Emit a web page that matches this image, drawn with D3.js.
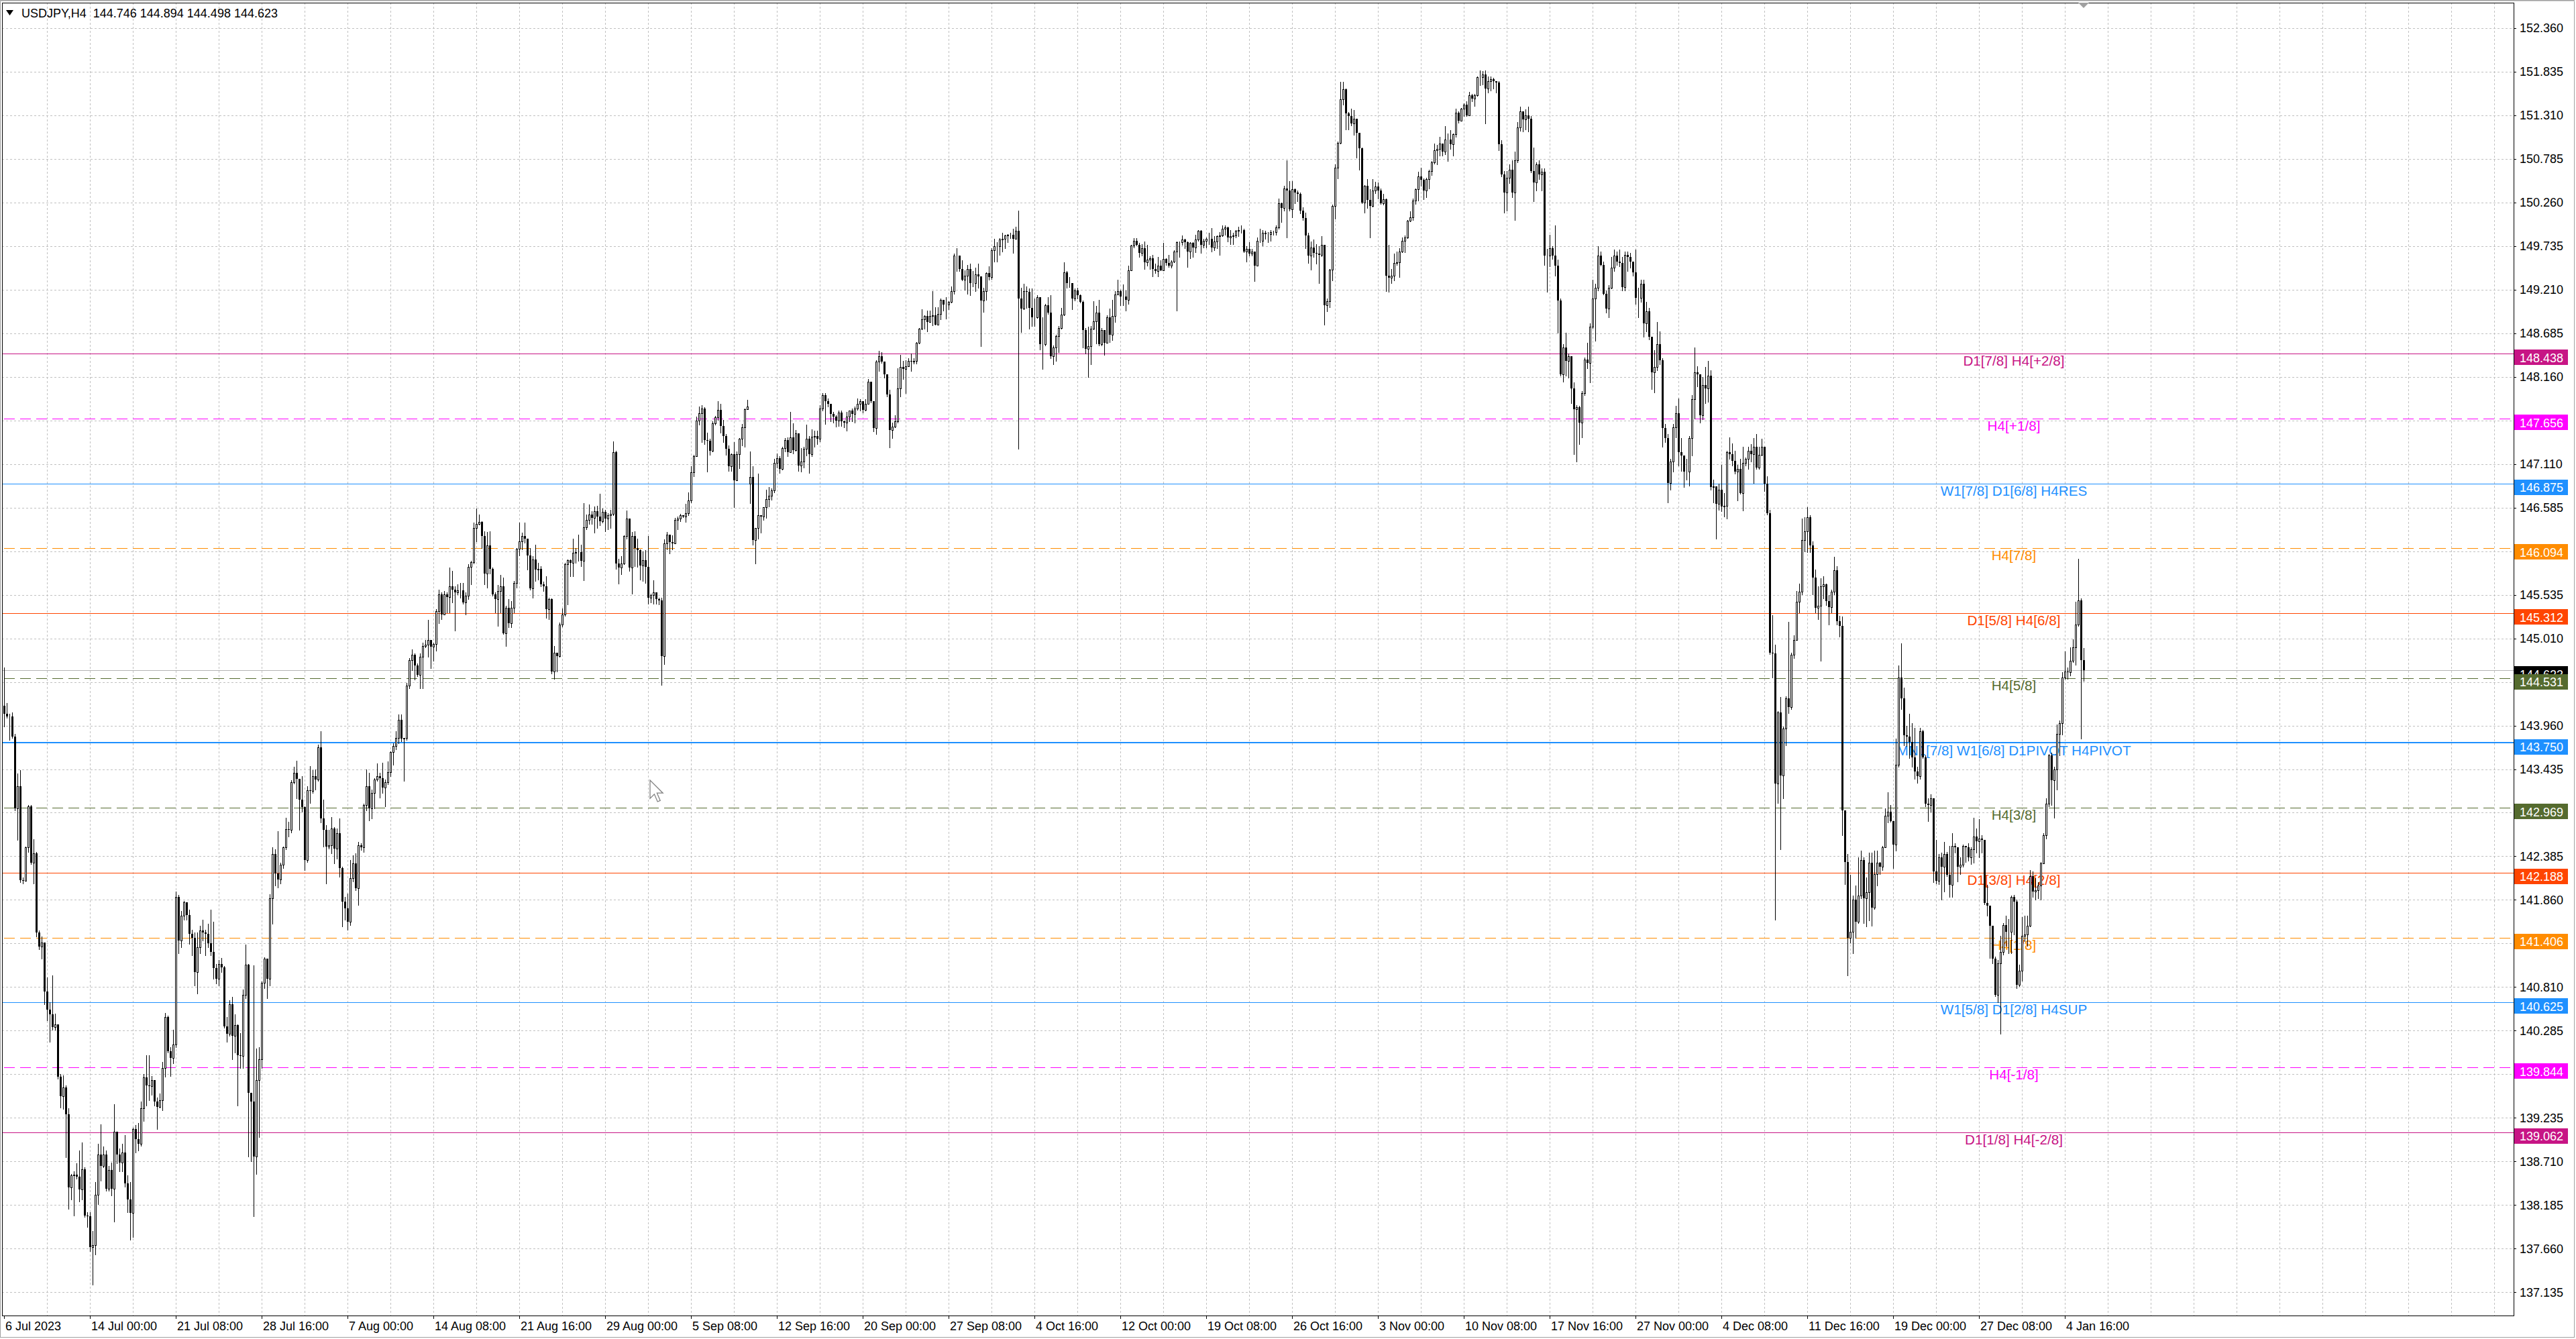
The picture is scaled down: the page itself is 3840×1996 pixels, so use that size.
<!DOCTYPE html>
<html>
<head>
<meta charset="utf-8">
<script src="https://d3js.org/d3.v7.min.js"></script>
<style>
  html, body { margin: 0; padding: 0; background: #fff; overflow: hidden; }
  svg { display: block; }
</style>
</head>
<body>
<script>
// USDJPY H4, one value per bar (bar 0 = 6 Jul 2023 16:00)
var opens = [
  144.20,144.10,144.07,144.07,143.83,142.96,143.23,142.10,142.09,142.49,
  142.99,142.31,142.42,141.47,141.30,141.35,140.76,140.54,140.48,140.33,
  140.36,139.73,139.50,139.60,139.28,138.40,138.54,138.55,138.53,138.37,
  138.62,138.06,138.05,137.68,137.70,138.31,138.79,138.66,138.79,138.38,
  138.61,138.38,139.07,138.79,138.70,138.82,138.45,138.25,138.09,139.10,
  138.98,138.92,139.35,139.72,139.63,139.62,139.69,139.43,139.37,139.45,
  139.84,140.45,140.04,139.96,140.12,141.90,141.37,141.67,141.83,141.68,
  141.45,141.40,140.99,141.29,141.49,141.47,141.45,141.34,141.23,141.04,
  140.91,141.09,141.05,140.34,140.25,140.60,140.22,140.35,139.99,139.98,
  140.72,141.08,139.54,139.43,138.77,139.69,139.94,140.86,141.15,140.91,
  141.88,142.41,142.18,142.11,142.28,142.49,142.71,142.70,143.28,143.39,
  143.32,143.07,142.98,142.34,143.18,143.17,143.35,143.31,143.70,142.84,
  142.70,142.50,142.52,142.72,142.48,142.66,142.24,141.84,141.76,141.60,
  142.12,142.30,142.00,142.52,142.49,143.00,143.23,142.96,143.15,143.31,
  143.35,143.33,143.21,143.28,143.40,143.64,143.71,143.81,144.03,143.80,
  143.81,144.44,144.75,144.81,144.68,144.57,144.79,144.92,144.93,144.99,
  144.91,144.94,145.34,145.54,145.30,145.54,145.51,145.64,145.60,145.56,
  145.59,145.59,145.44,145.52,145.87,145.93,146.34,146.39,146.41,146.24,
  145.79,146.13,145.85,145.54,145.48,145.58,145.64,145.07,145.38,145.19,
  145.38,145.68,146.09,146.18,146.24,146.21,146.01,145.61,145.96,145.84,
  145.85,145.66,145.64,145.36,145.48,144.61,144.84,144.80,145.18,145.30,
  145.90,145.95,145.92,146.04,146.05,146.05,145.94,146.35,146.44,146.50,
  146.46,146.54,146.48,146.42,146.53,146.45,146.49,146.51,147.25,145.91,
  145.86,145.91,146.24,146.45,145.86,146.24,146.10,146.07,145.89,145.95,
  145.87,145.50,145.53,145.56,145.48,145.47,144.80,146.15,146.26,146.17,
  146.15,146.44,146.45,146.49,146.48,146.52,146.67,147.01,147.20,147.63,
  147.72,147.78,147.40,147.39,147.27,147.60,147.67,147.76,147.57,147.45,
  147.29,147.08,147.23,146.91,147.23,147.41,147.55,147.77,146.87,146.95,
  146.19,146.34,146.49,146.48,146.59,146.69,146.73,146.79,147.12,147.18,
  147.05,147.30,147.40,147.25,147.43,147.28,147.48,147.09,147.14,147.29,
  147.41,147.23,147.44,147.45,147.41,147.78,147.94,147.87,147.83,147.71,
  147.68,147.63,147.73,147.62,147.61,147.68,147.75,147.71,147.78,147.83,
  147.87,147.76,147.83,148.10,147.87,147.54,148.34,148.41,148.34,148.19,
  147.95,147.52,147.56,147.62,148.02,148.28,148.25,148.29,148.35,148.34,
  148.35,148.57,148.74,148.85,148.89,148.82,148.89,148.90,148.79,148.92,
  149.09,149.03,149.03,149.06,149.19,149.62,149.62,149.46,149.33,149.38,
  149.46,149.29,149.29,149.39,149.37,149.08,149.19,149.41,149.36,149.68,
  149.73,149.73,149.81,149.82,149.86,149.87,149.87,149.82,149.92,149.10,
  148.98,149.19,149.18,148.99,148.88,148.88,149.12,148.55,148.55,149.02,
  148.93,148.41,148.51,148.65,148.75,148.91,149.42,149.29,149.29,149.10,
  149.20,149.14,149.06,148.72,148.50,148.53,148.74,148.83,148.93,148.55,
  148.72,148.57,148.88,148.67,148.89,149.15,149.19,149.13,149.13,149.09,
  149.44,149.74,149.80,149.75,149.65,149.71,149.54,149.57,149.59,149.46,
  149.43,149.50,149.44,149.58,149.53,149.50,149.55,149.67,149.78,149.78,
  149.81,149.78,149.67,149.77,149.72,149.81,149.92,149.75,149.80,149.82,
  149.82,149.72,149.79,149.85,149.86,149.94,149.96,149.84,149.85,149.86,
  149.92,149.93,149.93,149.67,149.70,149.64,149.67,149.50,149.80,149.80,
  149.89,149.88,149.88,149.90,149.90,149.96,150.25,150.19,150.43,150.40,
  150.18,150.42,150.38,150.36,150.16,150.07,149.86,149.62,149.72,149.65,
  149.64,149.63,149.75,149.02,149.07,149.45,150.22,150.68,150.98,151.50,
  151.62,151.33,151.30,151.21,151.27,151.10,150.91,150.26,150.46,150.29,
  150.22,150.40,150.45,150.40,150.25,150.30,149.38,149.35,149.38,149.53,
  149.54,149.67,149.80,149.84,150.04,150.08,150.28,150.42,150.57,150.53,
  150.40,150.54,150.64,150.74,150.89,150.90,150.97,150.87,151.02,151.02,
  150.96,151.08,151.34,151.24,151.39,151.44,151.31,151.55,151.51,151.55,
  151.77,151.77,151.80,151.63,151.72,151.74,151.72,151.70,150.96,150.60,
  150.38,150.56,150.65,150.38,150.77,151.16,151.36,151.26,151.31,151.27,
  150.64,150.50,150.72,150.60,150.63,149.62,149.62,149.71,149.62,149.50,
  149.08,148.19,148.51,148.35,148.41,148.02,147.77,147.79,147.61,147.96,
  148.37,148.33,148.76,149.10,149.23,149.62,149.51,149.16,148.98,149.23,
  149.47,149.62,149.55,149.53,149.24,149.63,149.60,149.55,149.42,149.11,
  149.11,149.28,148.80,148.95,148.64,148.21,148.28,148.55,148.36,147.54,
  147.42,146.88,147.14,147.55,147.72,147.25,147.21,147.02,147.02,147.42,
  147.89,148.21,148.19,147.70,148.06,148.02,148.17,146.83,146.84,146.63,
  146.80,146.60,146.61,147.25,147.23,147.15,147.02,147.05,146.76,147.12,
  147.17,147.27,147.23,147.32,147.07,147.22,147.32,146.87,146.52,144.84,
  144.83,143.26,144.12,143.36,143.92,144.29,144.18,144.81,144.99,145.45,
  145.57,146.19,146.30,146.47,146.13,145.74,145.38,145.40,145.64,145.66,
  145.46,145.39,145.57,145.83,145.22,145.16,142.94,142.32,141.40,141.48,
  141.86,141.60,141.91,142.34,141.88,141.95,142.31,141.77,142.17,142.31,
  142.26,142.49,142.87,142.92,142.81,142.53,143.49,144.54,144.29,143.84,
  143.83,143.76,143.58,143.41,143.35,143.89,143.58,143.02,143.00,143.08,
  142.20,142.09,142.37,142.26,142.41,142.16,142.04,142.51,142.49,142.26,
  142.28,142.51,142.49,142.37,142.47,142.62,142.57,142.60,142.58,141.82,
  141.79,141.55,141.15,140.72,141.10,141.23,141.56,141.48,141.48,141.90,
  141.84,140.84,141.01,141.43,141.44,141.55,142.15,141.96,141.98,142.03,
  142.30,142.64,143.02,143.60,143.30,143.43,143.86,143.99,144.54,144.61,
  144.60,144.74,144.90,145.18,145.47,144.746
]

var highs = [
  144.66,144.23,144.10,144.12,143.86,143.38,143.42,142.13,142.50,143.00,
  143.00,142.59,142.44,141.49,141.42,141.35,140.93,140.63,140.95,140.49,
  140.36,139.76,139.75,139.63,139.35,138.56,138.59,138.69,138.84,138.94,
  138.64,138.10,138.10,137.87,138.46,138.92,139.16,138.89,138.84,138.66,
  138.70,139.40,139.07,138.87,138.92,139.03,138.54,138.46,139.12,139.15,
  139.17,139.43,139.76,139.99,139.99,139.74,139.69,139.48,139.53,139.91,
  140.50,140.47,140.09,140.30,141.96,141.92,141.73,141.85,141.78,141.74,
  141.50,141.47,141.47,141.55,141.62,141.50,141.57,141.74,141.60,141.09,
  141.14,141.16,141.06,140.45,140.65,140.69,140.48,140.36,140.26,140.78,
  141.32,141.09,139.50,141.07,140.07,140.09,140.88,141.17,141.14,141.93,
  142.49,142.47,142.69,142.31,142.50,142.85,142.80,143.30,143.46,143.54,
  143.29,143.35,142.99,143.23,143.47,143.42,143.43,143.73,143.89,143.07,
  142.76,142.70,142.86,142.74,142.72,142.84,142.26,141.90,141.94,142.34,
  142.40,142.42,142.56,142.54,143.02,143.43,143.39,143.19,143.33,143.50,
  143.39,143.51,143.31,143.53,143.65,143.75,143.89,144.09,144.09,143.81,
  144.47,144.77,144.88,144.83,144.71,144.83,144.96,144.99,145.23,144.99,
  144.96,145.36,145.60,145.56,145.58,145.56,145.86,145.82,145.64,145.66,
  145.68,145.68,145.56,145.90,145.94,146.40,146.57,146.50,146.42,146.30,
  146.29,146.30,145.86,145.56,145.65,145.77,145.74,145.40,145.48,145.46,
  145.70,146.10,146.40,146.28,146.40,146.21,146.10,146.00,146.14,145.92,
  145.88,145.69,145.76,145.50,145.49,144.92,144.81,145.20,145.37,145.92,
  145.96,145.96,146.21,146.10,146.26,146.14,146.64,146.50,146.62,146.54,
  146.60,146.61,146.75,146.57,146.56,146.52,146.56,147.38,147.27,145.97,
  146.00,146.25,146.55,146.45,146.29,146.30,146.21,146.08,146.06,146.07,
  146.24,145.55,145.71,145.56,145.50,145.50,146.20,146.29,146.24,146.25,
  146.46,146.48,146.51,146.49,146.63,146.77,147.08,147.22,147.68,147.80,
  147.82,147.79,147.49,147.41,147.62,147.69,147.87,147.83,147.64,147.47,
  147.33,147.24,147.37,147.26,147.42,147.59,147.78,147.88,147.26,147.08,
  146.34,146.99,146.49,146.59,146.80,146.83,146.82,147.17,147.24,147.20,
  147.32,147.42,147.43,147.74,147.60,147.52,147.48,147.30,147.32,147.58,
  147.45,147.53,147.51,147.51,147.82,147.96,147.96,147.90,147.81,147.74,
  147.70,147.75,147.75,147.63,147.74,147.75,147.78,147.80,147.90,147.89,
  147.87,147.89,148.13,148.10,147.87,148.36,148.47,148.46,148.34,148.19,
  148.00,147.61,147.70,148.26,148.42,148.35,148.36,148.38,148.44,148.38,
  148.58,148.75,148.97,148.90,148.96,148.96,149.19,149.00,149.00,149.10,
  149.09,149.12,149.07,149.25,149.64,149.71,149.56,149.56,149.44,149.51,
  149.52,149.43,149.47,149.52,149.37,149.23,149.42,149.49,149.71,149.82,
  149.78,149.83,149.89,149.87,149.88,149.89,149.94,149.97,150.16,149.23,
  149.28,149.25,149.22,149.22,149.10,149.14,149.03,148.88,149.04,149.12,
  149.14,148.54,148.67,148.77,148.99,149.54,149.43,149.36,149.23,149.22,
  149.23,149.15,149.08,148.75,148.76,148.77,149.07,149.01,149.09,148.75,
  148.71,148.90,148.98,149.09,149.19,149.33,149.21,149.27,149.20,149.50,
  149.75,149.83,149.83,149.77,149.76,149.79,149.75,149.61,149.63,149.52,
  149.60,149.56,149.77,149.59,149.63,149.56,149.68,149.79,149.79,149.86,
  149.82,149.79,149.78,149.78,149.87,149.93,149.93,149.82,149.84,149.89,
  149.95,149.85,149.86,149.90,149.98,149.98,149.97,149.93,149.89,149.93,
  149.97,149.98,149.94,149.73,149.78,149.70,149.66,149.84,149.94,149.93,
  149.92,149.90,149.93,149.92,149.98,150.31,150.26,150.46,150.77,150.52,
  150.52,150.43,150.40,150.38,150.20,150.14,149.89,149.79,149.81,149.76,
  149.73,149.85,149.75,149.10,149.46,150.23,150.72,150.99,151.71,151.71,
  151.63,151.35,151.39,151.37,151.27,151.10,150.92,150.47,150.54,150.42,
  150.54,150.51,150.50,150.43,150.36,150.31,149.75,149.46,149.64,149.67,
  149.71,149.84,149.86,150.05,150.15,150.31,150.43,150.63,150.68,150.55,
  150.56,150.65,150.76,150.97,150.95,151.05,150.95,151.18,151.09,151.13,
  151.09,151.39,151.36,151.40,151.45,151.48,151.59,151.57,151.57,151.78,
  151.85,151.84,151.85,151.78,151.78,151.76,151.72,151.72,151.01,150.64,
  150.64,150.72,150.77,150.87,151.23,151.41,151.36,151.38,151.41,151.30,
  150.92,150.74,150.77,150.67,150.67,149.70,149.87,149.73,149.98,149.57,
  149.10,148.55,148.69,148.44,148.41,148.09,147.82,147.81,147.99,148.39,
  148.57,148.80,149.33,149.28,149.73,149.67,149.55,149.20,149.26,149.60,
  149.69,149.67,149.69,149.60,149.67,149.67,149.65,149.55,149.69,149.23,
  149.33,149.33,149.06,148.99,148.62,148.48,148.82,148.71,148.38,147.59,
  147.47,147.17,147.59,147.81,147.90,147.42,147.19,147.17,147.45,147.94,
  148.51,148.29,148.19,148.16,148.28,148.35,148.24,146.92,146.76,146.87,
  147.10,146.76,147.27,147.43,147.36,147.27,147.10,147.17,147.32,147.19,
  147.32,147.35,147.42,147.47,147.32,147.41,147.27,146.96,146.56,145.29,
  144.93,144.13,144.30,143.95,144.31,145.21,144.84,145.05,145.58,145.67,
  146.45,146.47,146.59,146.49,146.18,145.84,145.64,145.73,145.76,145.67,
  145.53,145.60,145.99,145.88,145.28,145.27,142.91,142.41,142.16,141.91,
  142.03,142.37,142.45,142.37,142.13,142.43,142.43,142.45,142.45,142.32,
  142.51,142.96,143.16,143.00,142.81,143.80,144.68,144.95,144.42,143.96,
  144.10,143.99,143.93,143.46,143.93,143.91,143.60,143.08,143.13,143.08,
  142.58,142.41,142.43,142.56,142.44,142.51,142.66,142.54,142.49,142.37,
  142.53,142.51,142.54,142.49,142.85,142.72,142.83,142.64,142.58,142.04,
  141.79,141.55,141.18,141.14,141.43,141.58,141.67,141.63,141.91,141.92,
  141.86,141.08,141.65,141.67,141.67,142.22,142.20,142.12,142.07,142.32,
  142.66,143.08,143.62,143.63,143.46,143.97,144.02,144.60,144.85,144.66,
  144.90,145.00,145.45,145.97,145.49,144.894
]

var lows = [
  143.95,144.05,143.79,143.81,142.94,142.58,142.07,142.06,142.11,142.44,
  142.29,142.06,141.42,141.27,141.15,140.60,140.41,140.15,140.30,140.30,
  139.71,139.36,139.34,138.76,138.14,138.25,138.06,138.50,138.23,138.25,
  138.04,137.92,137.63,137.23,137.59,138.20,138.48,138.64,138.36,138.36,
  138.30,137.99,138.69,138.59,138.59,138.41,138.10,137.77,137.80,138.82,
  138.84,138.90,139.20,139.38,139.45,139.51,139.38,139.10,139.36,139.33,
  139.73,140.02,139.74,139.89,140.09,141.22,141.29,141.62,141.62,141.33,
  141.19,140.83,140.73,141.22,141.37,141.19,141.29,141.19,140.91,140.85,
  140.83,140.99,140.32,140.15,140.22,139.94,140.02,139.38,139.84,139.84,
  140.68,138.77,138.71,138.05,138.56,139.00,139.84,140.80,140.68,140.83,
  141.57,142.03,142.01,142.06,142.24,142.47,142.62,142.67,143.26,143.08,
  142.70,142.92,142.22,142.32,143.03,143.15,143.19,143.29,142.79,142.50,
  142.06,142.48,142.42,142.30,142.36,142.14,141.54,141.62,141.50,141.56,
  142.08,141.98,141.80,142.46,142.44,142.94,142.82,142.84,142.96,143.29,
  143.09,143.15,142.99,143.25,143.35,143.49,143.67,143.75,143.77,143.29,
  143.79,144.41,144.63,144.51,144.55,144.41,144.41,144.90,144.79,144.65,
  144.74,144.86,145.19,145.24,145.32,145.32,145.32,145.44,145.10,145.54,
  145.50,145.43,145.30,145.48,145.66,145.91,146.18,146.38,146.10,145.66,
  145.62,145.79,145.52,145.32,145.16,145.32,145.06,144.92,145.14,145.14,
  145.32,145.62,146.01,146.08,146.16,145.84,145.60,145.50,145.70,145.72,
  145.64,145.58,145.26,145.24,144.59,144.52,144.61,144.79,145.15,145.28,
  145.42,145.76,145.76,145.92,145.94,145.88,145.71,146.32,146.39,146.39,
  146.28,146.34,146.37,146.40,146.30,146.32,146.34,146.49,145.85,145.67,
  145.78,145.90,146.21,145.82,145.55,145.88,145.87,145.72,145.70,145.68,
  145.43,145.44,145.43,145.43,145.42,144.45,144.70,146.08,146.03,146.08,
  146.15,146.32,146.42,146.47,146.41,146.49,146.65,146.96,147.20,147.58,
  147.37,147.35,147.02,147.22,147.26,147.58,147.64,147.49,147.37,147.22,
  147.03,147.03,146.59,146.91,147.06,147.33,147.32,147.77,146.64,146.14,
  145.91,146.21,146.28,146.44,146.46,146.60,146.68,146.77,147.07,147.00,
  147.04,147.26,147.20,147.25,147.24,147.27,147.03,147.02,147.07,147.21,
  147.00,147.20,147.32,147.35,147.38,147.75,147.59,147.80,147.62,147.61,
  147.56,147.57,147.57,147.55,147.51,147.62,147.62,147.61,147.76,147.75,
  147.73,147.75,147.83,147.85,147.50,147.47,148.23,148.33,148.15,147.92,
  147.31,147.42,147.55,147.61,147.92,148.13,147.96,148.29,148.23,148.32,
  148.32,148.56,148.73,148.74,148.71,148.82,148.78,148.79,148.79,148.85,
  148.96,148.86,148.97,149.05,149.16,149.43,149.43,149.32,149.21,149.16,
  149.14,149.25,149.19,149.23,148.53,148.94,149.09,149.33,149.34,149.55,
  149.55,149.63,149.67,149.71,149.78,149.83,149.65,149.82,147.29,148.70,
  148.97,148.99,148.74,148.77,148.77,148.87,148.49,148.25,148.54,148.92,
  148.38,148.31,148.35,148.46,148.74,148.90,149.23,149.24,148.97,149.08,
  149.10,149.05,148.51,148.44,148.16,148.31,148.73,148.56,148.54,148.54,
  148.42,148.57,148.58,148.60,148.82,149.15,149.02,149.02,148.96,149.04,
  149.44,149.72,149.74,149.60,149.62,149.46,149.50,149.46,149.37,149.41,
  149.37,149.44,149.44,149.51,149.48,149.47,149.54,148.96,149.60,149.75,
  149.71,149.48,149.59,149.60,149.66,149.80,149.65,149.72,149.72,149.76,
  149.67,149.68,149.71,149.63,149.85,149.87,149.79,149.76,149.76,149.84,
  149.85,149.89,149.66,149.55,149.62,149.62,149.31,149.51,149.78,149.74,
  149.82,149.78,149.80,149.87,149.87,149.94,150.02,150.16,149.84,150.16,
  150.08,150.25,150.27,150.13,150.05,149.71,149.53,149.45,149.60,149.52,
  149.29,149.61,148.79,148.95,149.00,149.32,150.06,150.55,150.97,151.44,
  151.14,151.14,151.19,151.07,150.80,150.65,150.25,150.14,150.19,149.84,
  150.21,150.37,150.31,150.24,150.23,149.19,149.18,149.29,149.32,149.51,
  149.36,149.66,149.66,149.83,150.03,150.05,150.24,150.28,150.46,150.30,
  150.32,150.43,150.59,150.73,150.72,150.82,150.82,150.84,150.76,150.90,
  150.82,151.05,151.22,151.24,151.30,151.30,151.34,151.48,151.42,151.54,
  151.67,151.68,151.21,151.58,151.61,151.63,151.58,150.89,150.57,150.14,
  150.16,150.49,150.32,150.05,150.74,151.12,151.11,151.14,151.11,150.62,
  150.27,150.40,150.54,150.40,149.51,149.18,149.49,149.58,149.38,148.69,
  148.17,148.10,148.17,148.15,147.84,147.23,147.14,147.35,147.43,147.94,
  148.26,148.09,148.75,148.59,149.20,149.50,149.15,148.93,148.88,149.22,
  149.43,149.51,149.49,149.20,149.20,149.43,149.47,149.38,149.04,148.88,
  149.06,148.64,148.71,148.61,148.01,147.97,148.24,148.31,147.32,147.37,
  146.65,146.80,147.02,147.43,147.09,147.03,146.83,146.92,146.85,147.21,
  147.66,148.04,147.61,147.65,147.84,147.86,146.80,146.65,146.21,146.56,
  146.54,146.48,146.45,147.17,147.09,146.99,146.67,146.75,146.55,147.09,
  147.05,147.14,146.88,147.05,147.05,147.21,146.78,146.50,144.82,144.54,
  141.62,143.03,142.47,143.08,143.72,144.11,144.16,144.77,145.01,145.32,
  145.54,146.06,146.05,146.05,145.54,145.32,145.24,144.74,145.49,145.41,
  145.18,145.32,145.54,145.18,145.03,142.64,142.05,140.95,141.35,141.22,
  141.40,141.58,141.88,141.58,141.54,141.61,141.55,141.75,142.03,142.17,
  142.22,142.49,142.79,142.80,142.24,142.45,143.46,144.16,143.72,143.71,
  143.57,143.46,143.32,143.27,143.32,143.57,142.99,142.81,142.92,142.07,
  142.06,142.05,141.86,141.96,142.15,141.90,141.90,142.43,142.08,142.17,
  142.26,142.32,142.33,142.29,142.31,142.43,142.37,142.43,141.81,141.67,
  141.16,141.10,140.70,140.63,140.25,141.20,141.31,141.22,141.22,141.44,
  140.80,140.82,140.89,141.36,141.31,141.54,141.90,141.86,141.88,141.86,
  142.30,142.60,142.99,143.00,142.85,143.19,143.60,143.85,144.52,144.52,
  144.56,144.72,144.69,145.16,143.80,144.498
]

var closes = [
  144.10,144.07,144.07,143.83,142.96,143.23,142.10,142.09,142.49,142.99,
  142.31,142.42,141.47,141.30,141.35,140.76,140.54,140.48,140.33,140.36,
  139.73,139.50,139.60,139.28,138.40,138.54,138.55,138.53,138.37,138.62,
  138.06,138.05,137.68,137.70,138.31,138.79,138.66,138.79,138.38,138.61,
  138.38,139.07,138.79,138.70,138.82,138.45,138.25,138.09,139.10,138.98,
  138.92,139.35,139.72,139.63,139.62,139.69,139.43,139.37,139.45,139.84,
  140.45,140.04,139.96,140.12,141.90,141.37,141.67,141.83,141.68,141.45,
  141.40,140.99,141.29,141.49,141.47,141.45,141.34,141.23,141.04,140.91,
  141.09,141.05,140.34,140.25,140.60,140.22,140.35,139.99,139.98,140.72,
  141.08,139.54,139.43,138.77,139.69,139.94,140.86,141.15,140.91,141.88,
  142.41,142.18,142.11,142.28,142.49,142.71,142.70,143.28,143.39,143.32,
  143.07,142.98,142.34,143.18,143.17,143.35,143.31,143.70,142.84,142.70,
  142.50,142.52,142.72,142.48,142.66,142.24,141.84,141.76,141.60,142.12,
  142.30,142.00,142.52,142.49,143.00,143.23,142.96,143.15,143.31,143.35,
  143.33,143.21,143.28,143.40,143.64,143.71,143.81,144.03,143.80,143.81,
  144.44,144.75,144.81,144.68,144.57,144.79,144.92,144.93,144.99,144.91,
  144.94,145.34,145.54,145.30,145.54,145.51,145.64,145.60,145.56,145.59,
  145.59,145.44,145.52,145.87,145.93,146.34,146.39,146.41,146.24,145.79,
  146.13,145.85,145.54,145.48,145.58,145.64,145.07,145.38,145.19,145.38,
  145.68,146.09,146.18,146.24,146.21,146.01,145.61,145.96,145.84,145.85,
  145.66,145.64,145.36,145.48,144.61,144.84,144.80,145.18,145.30,145.90,
  145.95,145.92,146.04,146.05,146.05,145.94,146.35,146.44,146.50,146.46,
  146.54,146.48,146.42,146.53,146.45,146.49,146.51,147.25,145.91,145.86,
  145.91,146.24,146.45,145.86,146.24,146.10,146.07,145.89,145.95,145.87,
  145.50,145.53,145.56,145.48,145.47,144.80,146.15,146.26,146.17,146.15,
  146.44,146.45,146.49,146.48,146.52,146.67,147.01,147.20,147.63,147.72,
  147.78,147.40,147.39,147.27,147.60,147.67,147.76,147.57,147.45,147.29,
  147.08,147.23,146.91,147.23,147.41,147.55,147.77,147.80,146.95,146.19,
  146.34,146.49,146.48,146.59,146.69,146.73,146.79,147.12,147.18,147.05,
  147.30,147.40,147.25,147.43,147.28,147.48,147.09,147.14,147.29,147.41,
  147.23,147.44,147.45,147.41,147.78,147.94,147.87,147.83,147.71,147.68,
  147.63,147.73,147.62,147.61,147.68,147.75,147.71,147.78,147.83,147.87,
  147.76,147.83,148.10,147.87,147.54,148.34,148.41,148.34,148.19,147.95,
  147.52,147.56,147.62,148.02,148.28,148.25,148.29,148.35,148.34,148.35,
  148.57,148.74,148.85,148.89,148.82,148.89,148.90,148.79,148.92,149.09,
  149.03,149.03,149.06,149.19,149.62,149.62,149.46,149.33,149.38,149.46,
  149.29,149.29,149.39,149.37,149.08,149.19,149.41,149.36,149.68,149.73,
  149.73,149.81,149.82,149.86,149.87,149.87,149.82,149.92,149.10,148.98,
  149.19,149.18,148.99,148.88,148.88,149.12,148.55,148.55,149.02,148.93,
  148.41,148.51,148.65,148.75,148.91,149.42,149.29,149.29,149.10,149.20,
  149.14,149.06,148.72,148.50,148.53,148.74,148.83,148.93,148.55,148.72,
  148.57,148.88,148.67,148.89,149.15,149.19,149.13,149.13,149.09,149.44,
  149.74,149.80,149.75,149.65,149.71,149.54,149.57,149.59,149.46,149.43,
  149.50,149.44,149.58,149.53,149.50,149.55,149.67,149.78,149.78,149.81,
  149.78,149.67,149.77,149.72,149.81,149.92,149.75,149.80,149.82,149.82,
  149.72,149.79,149.85,149.86,149.94,149.96,149.84,149.85,149.86,149.92,
  149.93,149.93,149.67,149.70,149.64,149.67,149.50,149.80,149.80,149.89,
  149.88,149.88,149.90,149.90,149.96,150.25,150.19,150.43,150.40,150.18,
  150.42,150.38,150.36,150.16,150.07,149.86,149.62,149.72,149.65,149.64,
  149.63,149.75,149.02,149.07,149.45,150.22,150.68,150.98,151.50,151.62,
  151.33,151.30,151.21,151.27,151.10,150.91,150.26,150.46,150.29,150.22,
  150.40,150.45,150.40,150.25,150.30,149.38,149.35,149.38,149.53,149.54,
  149.67,149.80,149.84,150.04,150.08,150.28,150.42,150.57,150.53,150.40,
  150.54,150.64,150.74,150.89,150.90,150.97,150.87,151.02,151.02,150.96,
  151.08,151.34,151.24,151.39,151.44,151.31,151.55,151.51,151.55,151.77,
  151.77,151.80,151.63,151.72,151.74,151.72,151.70,150.96,150.60,150.38,
  150.56,150.65,150.38,150.77,151.16,151.36,151.26,151.31,151.27,150.64,
  150.50,150.72,150.60,150.63,149.62,149.62,149.71,149.62,149.50,149.08,
  148.19,148.51,148.35,148.41,148.02,147.77,147.79,147.61,147.96,148.37,
  148.33,148.76,149.10,149.23,149.62,149.51,149.16,148.98,149.23,149.47,
  149.62,149.55,149.53,149.24,149.63,149.60,149.55,149.42,149.11,149.11,
  149.28,148.80,148.95,148.64,148.21,148.28,148.55,148.36,147.54,147.42,
  146.88,147.14,147.55,147.72,147.25,147.21,147.02,147.02,147.42,147.89,
  148.21,148.19,147.70,148.06,148.02,148.17,146.83,146.84,146.63,146.80,
  146.60,146.61,147.25,147.23,147.15,147.02,147.05,146.76,147.12,147.17,
  147.27,147.23,147.32,147.07,147.22,147.32,146.87,146.52,144.84,144.83,
  143.26,144.12,143.36,143.92,144.29,144.18,144.81,144.99,145.45,145.57,
  146.19,146.30,146.47,146.13,145.74,145.38,145.40,145.64,145.66,145.46,
  145.39,145.57,145.83,145.22,145.16,142.94,142.32,141.40,141.48,141.86,
  141.60,141.91,142.34,141.88,141.95,142.31,141.77,142.17,142.31,142.26,
  142.49,142.87,142.92,142.81,142.53,143.49,144.54,144.29,143.84,143.83,
  143.76,143.58,143.41,143.35,143.89,143.58,143.02,143.00,143.08,142.20,
  142.09,142.37,142.26,142.41,142.16,142.04,142.51,142.49,142.26,142.28,
  142.51,142.49,142.37,142.47,142.62,142.57,142.60,142.58,141.82,141.79,
  141.55,141.15,140.72,141.10,141.23,141.56,141.48,141.48,141.90,141.84,
  140.84,141.01,141.43,141.44,141.55,142.15,141.96,141.98,142.03,142.30,
  142.64,143.02,143.60,143.30,143.43,143.86,143.99,144.54,144.61,144.60,
  144.74,144.90,145.18,145.47,144.746,144.623
]

var symbol = 'USDJPY,H4'

// time axis labels, every 32 bars
var timeLabels = ['6 Jul 2023', '14 Jul 00:00', '21 Jul 08:00', '28 Jul 16:00', '7 Aug 00:00',
  '14 Aug 08:00', '21 Aug 16:00', '29 Aug 00:00', '5 Sep 08:00', '12 Sep 16:00', '20 Sep 00:00',
  '27 Sep 08:00', '4 Oct 16:00', '12 Oct 00:00', '19 Oct 08:00', '26 Oct 16:00', '3 Nov 00:00',
  '10 Nov 08:00', '17 Nov 16:00', '27 Nov 00:00', '4 Dec 08:00', '11 Dec 16:00', '19 Dec 00:00',
  '27 Dec 08:00', '4 Jan 16:00']
var timeLabelBars = [0, 32, 64, 96, 128, 160, 192, 224, 256, 288, 320, 352, 384, 416, 448, 480,
  512, 544, 576, 608, 640, 672, 704, 736, 768]

var priceTicks = [137.135, 137.660, 138.185, 138.710, 139.235, 139.760, 140.285, 140.810,
  141.335, 141.860, 142.385, 142.910, 143.435, 143.960, 144.485, 145.010, 145.535, 146.060,
  146.585, 147.110, 147.635, 148.160, 148.685, 149.210, 149.735, 150.260, 150.785, 151.310,
  151.835, 152.360]

// Murrey-style levels
var levelPrices = [148.438, 147.656, 146.875, 146.094, 145.312, 144.531, 143.750, 142.969,
  142.188, 141.406, 140.625, 139.844, 139.062]
var levelNames = ['D1[7/8] H4[+2/8]', 'H4[+1/8]', 'W1[7/8] D1[6/8] H4RES', 'H4[7/8]',
  'D1[5/8] H4[6/8]', 'H4[5/8]', 'MN1[7/8] W1[6/8] D1PIVOT H4PIVOT', 'H4[3/8]',
  'D1[3/8] H4[2/8]', 'H4[1/8]', 'W1[5/8] D1[2/8] H4SUP', 'H4[-1/8]', 'D1[1/8] H4[-2/8]']
var levelLabelBar = 749

// styles for the levels
var levelColors = ['#C71585', '#FF00FF', '#1E90FF', '#FF8C00', '#FF4500', '#556B2F', '#1E90FF',
  '#556B2F', '#FF4500', '#FF8C00', '#1E90FF', '#FF00FF', '#C71585']
var levelDashed = [false, true, false, true, false, true, false, true, false, true, false, true, false]
var levelWidths = [1, 1, 1, 1, 1, 1, 2, 1, 1, 1, 1, 1, 1]

var width = 3840
var height = 1996
var plot = { left: 3, top: 4, right: 3747, bottom: 1961 }
var font = '"Liberation Sans", Arial, sans-serif'

var x = d3.scaleLinear().domain([-0.75, 935.25]).range([plot.left, plot.right])
var y = d3.scaleLinear().domain([136.855, 152.665]).range([plot.bottom, plot.top])

function py (p) { return Math.round(y(p)) + 0.5 }

var svg = d3.select('body').append('svg')
  .attr('width', width)
  .attr('height', height)

svg.append('rect')
  .attr('width', width)
  .attr('height', height)
  .attr('fill', '#fff')

// outer window frame
svg.append('rect')
  .attr('x', 0.5).attr('y', 0.5)
  .attr('width', 3837).attr('height', 1993)
  .attr('fill', 'none')
  .attr('stroke', '#a0a0a0')
svg.append('line')
  .attr('x1', 0).attr('x2', 3838).attr('y1', 1.5).attr('y2', 1.5)
  .attr('stroke', '#c8c8c8')

// grid
var grid = svg.append('g')
  .attr('stroke', '#c0c0c0')
  .attr('stroke-dasharray', '3,3')
  .attr('shape-rendering', 'crispEdges')

grid.selectAll('line.gh')
  .data(priceTicks)
  .join('line')
  .attr('class', 'gh')
  .attr('x1', plot.left).attr('x2', plot.right)
  .attr('y1', py).attr('y2', py)

grid.selectAll('line.gv')
  .data(d3.range(16, 936, 16))
  .join('line')
  .attr('class', 'gv')
  .attr('x1', function (d) { return Math.round(x(d)) + 0.5 })
  .attr('x2', function (d) { return Math.round(x(d)) + 0.5 })
  .attr('y1', plot.top).attr('y2', plot.bottom)

// level lines
function levelY (d, i) { return levelWidths[i] === 2 ? Math.round(y(d)) - 1 : py(d) }

var levels = svg.append('g').attr('shape-rendering', 'crispEdges')
levels.selectAll('line')
  .data(levelPrices)
  .join('line')
  .attr('x1', plot.left).attr('x2', plot.right)
  .attr('y1', levelY)
  .attr('y2', levelY)
  .attr('stroke', function (d, i) { return levelColors[i] })
  .attr('stroke-width', function (d, i) { return levelWidths[i] })
  .attr('stroke-dasharray', function (d, i) { return levelDashed[i] ? '16,8' : null })
  .attr('stroke-dashoffset', -3)

// current price line
var last = closes.length - 1
svg.append('line')
  .attr('x1', plot.left).attr('x2', plot.right)
  .attr('y1', py(closes[last])).attr('y2', py(closes[last]))
  .attr('stroke', '#b4b4b4')
  .attr('shape-rendering', 'crispEdges')

// level texts
svg.append('g').selectAll('text')
  .data(levelPrices)
  .join('text')
  .attr('x', x(levelLabelBar))
  .attr('y', function (d) { return y(d) + 18 })
  .attr('text-anchor', 'middle')
  .attr('font-family', font)
  .attr('font-size', '20.7px')
  .attr('fill', function (d, i) { return levelColors[i] })
  .text(function (d, i) { return levelNames[i] })

// candles
var bars = d3.range(closes.length).map(function (i) {
  return { i: i, o: opens[i], h: highs[i], l: lows[i], c: closes[i] }
})

var candles = svg.append('g').attr('shape-rendering', 'crispEdges')

candles.selectAll('line')
  .data(bars)
  .join('line')
  .attr('x1', function (d) { return Math.round(x(d.i)) + 0.5 })
  .attr('x2', function (d) { return Math.round(x(d.i)) + 0.5 })
  .attr('y1', function (d) { return Math.round(y(Math.max(d.h, d.o, d.c))) })
  .attr('y2', function (d) { return Math.round(y(Math.min(d.l, d.o, d.c))) + 1 })
  .attr('stroke', '#000')

candles.selectAll('rect')
  .data(bars)
  .join('rect')
  .each(function (d) {
    var xc = Math.round(x(d.i))
    var top = Math.round(y(Math.max(d.o, d.c)))
    var bot = Math.round(y(Math.min(d.o, d.c)))
    var r = d3.select(this)
    if (d.c >= d.o) {
      r.attr('x', xc - 0.5).attr('y', top + 0.5)
        .attr('width', 2).attr('height', Math.max(bot - top, 0))
        .attr('fill', '#fff').attr('stroke', '#000')
    } else {
      r.attr('x', xc - 1).attr('y', top)
        .attr('width', 3).attr('height', Math.max(bot - top, 1))
        .attr('fill', '#000')
    }
  })

// plot border
svg.append('rect')
  .attr('x', plot.left + 0.5).attr('y', plot.top + 0.5)
  .attr('width', plot.right - plot.left).attr('height', plot.bottom - plot.top)
  .attr('fill', 'none')
  .attr('stroke', '#000')
  .attr('shape-rendering', 'crispEdges')

// price axis
var priceAxis = svg.append('g')
priceAxis.selectAll('line')
  .data(priceTicks)
  .join('line')
  .attr('x1', plot.right).attr('x2', plot.right + 4)
  .attr('y1', py).attr('y2', py)
  .attr('stroke', '#000')
  .attr('shape-rendering', 'crispEdges')
priceAxis.selectAll('text')
  .data(priceTicks)
  .join('text')
  .attr('x', plot.right + 9)
  .attr('y', function (d) { return y(d) + 6.5 })
  .attr('font-family', font)
  .attr('font-size', '18px')
  .attr('fill', '#000')
  .text(function (d) { return d.toFixed(3) })

// time axis
var timeAxis = svg.append('g')
timeAxis.selectAll('line')
  .data(timeLabelBars)
  .join('line')
  .attr('x1', function (d) { return Math.round(x(d)) + 0.5 })
  .attr('x2', function (d) { return Math.round(x(d)) + 0.5 })
  .attr('y1', plot.bottom).attr('y2', plot.bottom + 5)
  .attr('stroke', '#000')
  .attr('shape-rendering', 'crispEdges')
timeAxis.selectAll('text')
  .data(timeLabelBars)
  .join('text')
  .attr('x', function (d) { return x(d) + 2 })
  .attr('y', plot.bottom + 22)
  .attr('font-family', font)
  .attr('font-size', '18px')
  .attr('fill', '#000')
  .text(function (d, i) { return timeLabels[i] })

// price boxes on the right scale
function priceBox (price, color) {
  var g = svg.append('g')
  g.append('rect')
    .attr('x', plot.right + 1)
    .attr('y', Math.round(y(price)) - 6)
    .attr('width', 80)
    .attr('height', 23)
    .attr('fill', color)
  g.append('text')
    .attr('x', plot.right + 9)
    .attr('y', y(price) + 12.5)
    .attr('font-family', font)
    .attr('font-size', '18px')
    .attr('fill', '#fff')
    .text(price.toFixed(3))
}

priceBox(closes[last], '#000')
levelPrices.forEach(function (p, i) { priceBox(p, levelColors[i]) })

// chart shift marker
svg.append('path')
  .attr('d', 'M' + (x(last) - 8) + ',4L' + (x(last) + 8) + ',4L' + x(last) + ',12Z')
  .attr('fill', '#a0a0a0')

// mouse pointer left on the chart
svg.append('path')
  .attr('transform', 'translate(969,1163) scale(1.6)')
  .attr('d', 'M0,0L0,17L4,13L7,20L9.5,19L6.5,12L12,12Z')
  .attr('fill', '#fff')
  .attr('stroke', '#808080')
  .attr('stroke-width', 0.8)

// title
svg.append('path')
  .attr('d', 'M9,15L20,15L14.5,23Z')
  .attr('fill', '#000')
svg.append('text')
  .attr('x', 32)
  .attr('y', 26)
  .attr('font-family', font)
  .attr('font-size', '18px')
  .attr('fill', '#000')
  .attr('xml:space', 'preserve')
  .style('white-space', 'pre')
  .text(symbol + '  ' + [opens[last], highs[last], lows[last], closes[last]]
    .map(function (v) { return v.toFixed(3) }).join(' '))
</script>
</body>
</html>
